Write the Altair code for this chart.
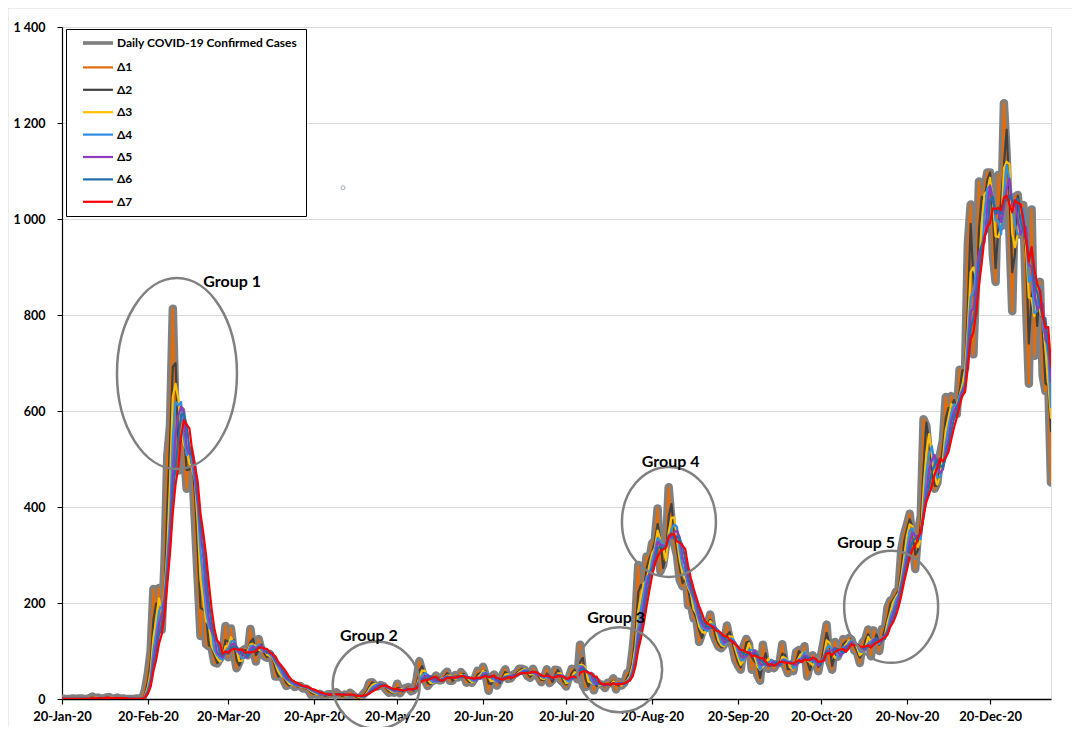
import altair as alt
import pandas as pd

# ---------------- data (daily confirmed cases, 20-Jan-2020 .. 11-Jan-2021) -------------
START = "2020-01-20"
jan20 = [1, 0, 0, 0, 1, 0, 1, 1, 0, 0, 2, 5]
feb20 = [1, 3, 0, 1, 3, 4, 1, 0, 3, 0, 1, 0, 0, 0, 0, 1, 1, 1, 20, 53, 100, 229, 169, 231,
         144, 284, 505, 571, 813]
mar20 = [586, 476, 600, 516, 438, 518, 483, 367, 248, 131, 242, 114, 110, 107, 76, 74, 84,
         93, 152, 87, 147, 98, 64, 76, 100, 104, 91, 146, 105, 78, 125]
apr20 = [101, 89, 86, 94, 81, 47, 47, 53, 39, 27, 30, 32, 25, 27, 27, 22, 22, 18, 8, 13, 9,
         11, 8, 6, 10, 10, 10, 14, 9, 4]
may20 = [9, 6, 13, 8, 3, 2, 4, 12, 18, 34, 35, 27, 26, 29, 27, 19, 13, 15, 13, 32, 12, 20,
         23, 25, 16, 19, 40, 79, 58, 39, 27]
jun20 = [35, 38, 49, 39, 39, 51, 57, 38, 38, 50, 45, 56, 49, 34, 37, 34, 43, 59, 49, 67, 48,
         17, 46, 51, 28, 39, 51, 62, 42, 43]
jul20 = [51, 54, 63, 63, 61, 48, 44, 63, 50, 45, 35, 44, 62, 33, 39, 61, 60, 39, 34, 26, 45,
         63, 59, 41, 113, 58, 25, 28, 48, 18, 36]
aug20 = [31, 30, 23, 34, 33, 43, 20, 36, 28, 34, 54, 56, 103, 166, 279, 197, 246, 297, 288,
         324, 332, 397, 266, 280, 320, 441, 371, 323, 299, 248, 235]
sep20 = [267, 195, 198, 168, 167, 119, 136, 156, 155, 176, 136, 121, 109, 106, 113, 153, 126,
         110, 82, 70, 61, 110, 125, 114, 61, 95, 50, 38, 113, 77]
oct20 = [63, 75, 64, 73, 75, 114, 69, 54, 72, 58, 98, 102, 84, 110, 47, 73, 91, 76, 58, 91,
         121, 155, 77, 61, 119, 88, 103, 125, 114, 127, 124]
nov20 = [101, 97, 75, 118, 125, 145, 89, 143, 126, 100, 146, 143, 191, 205, 208, 223, 230,
         313, 343, 363, 386, 330, 271, 349, 382, 583, 569, 504, 450, 438]
dec20 = [451, 511, 540, 629, 583, 631, 615, 594, 686, 682, 689, 950, 1030, 718, 880, 1078,
         1014, 1064, 1097, 1097, 926, 869, 1092, 985, 1241, 1132, 970, 808, 1046, 1050, 967]
jan21 = [1029, 824, 657, 1020, 715, 840, 869, 674, 641, 665, 451]

cases = jan20 + feb20 + mar20 + apr20 + may20 + jun20 + jul20 + aug20 + sep20 + oct20 + nov20 + dec20 + jan21
dates = list(pd.date_range(START, periods=len(cases), freq="D").strftime("%Y-%m-%d"))

RAW = "Daily COVID-19 Confirmed Cases"
SERIES = [RAW, "Δ1", "Δ2", "Δ3", "Δ4", "Δ5", "Δ6", "Δ7"]
COLORS = ["#808080", "#e36c09", "#404040", "#ffc000", "#2f8fe0", "#8e3bbf", "#1f6fa8", "#ff0000"]
# widths used by the legend symbols and by the Δ lines (raw line drawn separately, thicker)
LEGEND_WIDTHS = [3.7, 2.2, 2.2, 2.2, 2.2, 2.2, 2.2, 2.2]
RAW_WIDTH = 8.5

# annotations
GROUPS = ["Group 1", "Group 2", "Group 3", "Group 4", "Group 5"]
ELL_DATES = ["2020-03-01T12:00:00Z", "2020-05-12T10:00:00Z", "2020-08-08T07:00:00Z",
             "2020-08-26T02:00:00Z", "2020-11-14T07:00:00Z"]
ELL_VALUES = [678, 29, 61, 369, 192]
LBL_DATES = ["2020-03-21T10:00:00Z", "2020-05-09T19:00:00Z", "2020-08-07T00:00:00Z",
             "2020-08-26T17:00:00Z", "2020-11-05T07:00:00Z"]
LBL_VALUES = [869, 131, 169, 494, 326]
DOT_DATE = ["2020-04-30T10:00:00Z"]
DOT_VALUE = [1065]

# ellipse radii (px) - style
RADII = {"Group 1": (60, 95.5), "Group 2": (43.5, 43.5), "Group 3": (42.5, 42.5),
         "Group 4": (47, 55), "Group 5": (47, 56)}


def ellipse_path(rx, ry):
    m = max(rx, ry)
    a, b = rx / m, ry / m
    return f"M{-a},0A{a},{b} 0 1,1 {a},0A{a},{b} 0 1,1 {-a},0Z"


PATHS = [ellipse_path(*RADII[g]) for g in GROUPS]
SIZES = [(2 * max(RADII[g])) ** 2 for g in GROUPS]

FONT = "Lato"
W, H = 989, 672
XDOM = ["2020-01-20", "2021-01-11"]

df = pd.DataFrame({"date": dates, "cases": cases})
ann = pd.DataFrame({"group": GROUPS, "date": ELL_DATES, "value": ELL_VALUES})
lbl = pd.DataFrame({"group": GROUPS, "date": LBL_DATES, "value": LBL_VALUES})
dot = pd.DataFrame({"date": DOT_DATE, "value": DOT_VALUE})

xscale = alt.Scale(type="utc", domain=XDOM)
yscale = alt.Scale(domain=[0, 1400])

xaxis = alt.Axis(
    values=[alt.DateTime(year=2020, month=m, date=20, utc=True) for m in range(1, 13)],
    format="%d-%b-%y", labelFont=FONT, labelFontWeight="bold", labelFontSize=13,
    labelColor="black", domainColor="black", domainWidth=1.5, tickColor="black",
    tickSize=5, tickWidth=1.2, labelPadding=6, grid=False, title=None,
    labelOverlap=False, labelFlush=False,
)
yaxis = alt.Axis(
    values=list(range(0, 1401, 200)),
    labelExpr="replace(format(datum.value, ','), ',', ' ')",
    labelFont=FONT, labelFontWeight="bold", labelFontSize=12.5, labelColor="black",
    domainColor="black", domainWidth=1.2, tickColor="black", tickSize=5,
    labelPadding=12, grid=True, gridColor="#d9d9d9", gridWidth=1, title=None,
)

# Δk = k-day trailing moving average of the daily cases
base = alt.Chart(df)
for k in range(1, 8):
    base = base.transform_window(
        window=[{"op": "mean", "field": "cases", "as": f"Δ{k}"}],
        frame=[-(k - 1), 0],
        sort=[{"field": "date"}],
    )
base = base.transform_calculate(**{RAW: "datum.cases"}).transform_fold(
    SERIES, as_=["series", "value"]
)

color_enc = alt.Color(
    "series:N",
    scale=alt.Scale(domain=SERIES, range=COLORS),
    legend=alt.Legend(
        title=None, orient="none", legendX=4, legendY=2, direction="vertical",
        symbolType="M-15,0H15", symbolSize=4, labelFont=FONT,
        labelFontWeight="bold", labelFontSize=12, labelColor="black",
        strokeColor="black", fillColor="white", padding=8, rowPadding=10.4,
        symbolOffset=18, labelOffset=13, labelLimit=400,
    ),
)
x_enc = alt.X("date:T", scale=xscale, axis=xaxis)
y_enc = alt.Y("value:Q", scale=yscale, axis=yaxis)

raw_line = (
    base.transform_filter(alt.datum.series == RAW)
    .mark_line(clip=True, strokeJoin="round", strokeCap="round", strokeWidth=RAW_WIDTH)
    .encode(x=x_enc, y=y_enc, color=color_enc)
)
delta_lines = (
    base.transform_filter(alt.datum.series != RAW)
    .mark_line(clip=True, strokeJoin="round", strokeCap="round")
    .encode(
        x=x_enc, y=y_enc, color=color_enc,
        strokeWidth=alt.StrokeWidth(
            "series:N",
            scale=alt.Scale(type="ordinal", domain=SERIES, range=LEGEND_WIDTHS),
            legend=alt.Legend(title=None),
        ),
    )
)

ellipses = alt.Chart(ann).mark_point(filled=False, color="#808080", strokeWidth=2.5, opacity=1).encode(
    x=alt.X("date:T", scale=xscale),
    y=alt.Y("value:Q", scale=yscale),
    shape=alt.Shape("group:N", scale=alt.Scale(type="ordinal", domain=GROUPS, range=PATHS), legend=None),
    size=alt.Size("group:N", scale=alt.Scale(type="ordinal", domain=GROUPS, range=SIZES), legend=None),
)

labels = alt.Chart(lbl).mark_text(
    font=FONT, fontWeight="bold", fontSize=16, color="black", align="center", baseline="middle"
).encode(
    x=alt.X("date:T", scale=xscale),
    y=alt.Y("value:Q", scale=yscale),
    text="group:N",
)

tiny = alt.Chart(dot).mark_point(filled=False, color="#a0a8b8", size=16, strokeWidth=1, opacity=1).encode(
    x=alt.X("date:T", scale=xscale),
    y=alt.Y("value:Q", scale=yscale),
)

frame_top = alt.Chart(alt.Data(values=[{}])).mark_rule(color="#d9d9d9", strokeWidth=1).encode(
    x=alt.value(-54), x2=alt.value(1010), y=alt.value(-19)
)
frame_left = alt.Chart(alt.Data(values=[{}])).mark_rule(color="#d9d9d9", strokeWidth=1).encode(
    x=alt.value(-54), y=alt.value(-19), y2=alt.value(700)
)

chart = (
    alt.layer(frame_top, frame_left, raw_line, delta_lines, ellipses, labels, tiny)
    .properties(
        width=W, height=H,
        autosize=alt.AutoSizeParams(type="none"),
        padding={"left": 54, "top": 19, "right": 21, "bottom": 28},
    )
    .configure_view(stroke="black", strokeWidth=1.2)
    .configure(background="white")
)

chart.save("out.html", embed_options={"renderer": "svg", "actions": False})
